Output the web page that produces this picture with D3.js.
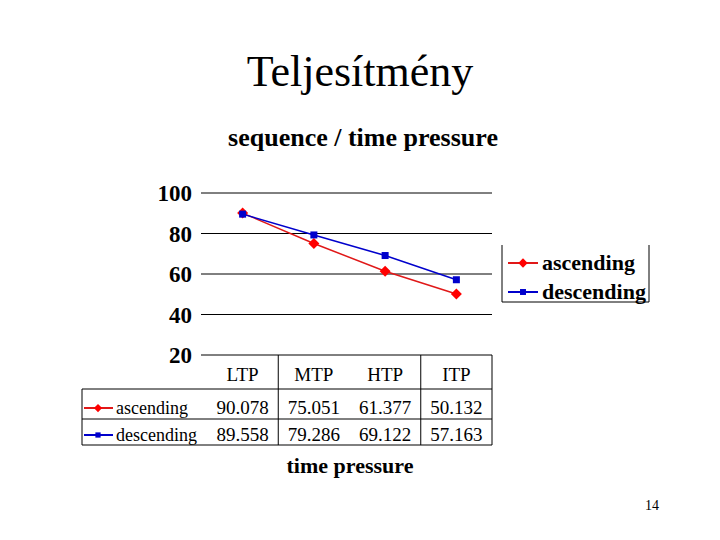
<!DOCTYPE html>
<html><head><meta charset="utf-8">
<script src="https://cdn.jsdelivr.net/npm/d3@7"></script>
<style>body{margin:0;background:#fff}svg{display:block}text{font-family:"Liberation Serif","Times New Roman",serif}</style>
</head><body>
<script>
const categories = ["LTP","MTP","HTP","ITP"];
const ascending = [90.078, 75.051, 61.377, 50.132];
const descending = [89.558, 79.286, 69.122, 57.163];
const yTicks = [20,40,60,80,100];
const seriesNames = ["ascending","descending"];

const svg = d3.select("body").append("svg").attr("width",720).attr("height",540);
svg.append("rect").attr("width",720).attr("height",540).attr("fill","#fff");

svg.append("text").attr("x",360).attr("y",86).attr("text-anchor","middle")
  .attr("font-size",44).text("Teljesítmény");
svg.append("text").attr("x",363).attr("y",146).attr("text-anchor","middle")
  .attr("font-size",26).attr("font-weight","bold").text("sequence / time pressure");

const x = d3.scaleBand().domain(categories).range([207,492]);
const y = d3.scaleLinear().domain([20,100]).range([355,193]);

// gridlines
svg.append("g").selectAll("line").data(yTicks).join("line")
  .attr("x1",201).attr("x2",492).attr("y1",d=>y(d)).attr("y2",d=>y(d))
  .attr("stroke","#000").attr("stroke-width",1);
svg.append("g").selectAll("text").data(yTicks).join("text")
  .attr("x",192).attr("y",d=>y(d)+8).attr("text-anchor","end")
  .attr("font-size",23).attr("font-weight","bold").text(d=>d);

const series = [
  {name:seriesNames[0], values:ascending, color:"#ff0000", line:"#e01818", shape:"diamond"},
  {name:seriesNames[1], values:descending, color:"#0000cc", line:"#0000cc", shape:"square"}
];
const cx = c => x(c)+x.bandwidth()/2;
const line = d3.line().x((d,i)=>cx(categories[i])).y(d=>y(d));
function marker(g, shape, color, px, py, scale){
  if(shape==="diamond"){
    const s=5.5*scale;
    g.append("path").attr("d",`M${px},${py-s}L${px+s},${py}L${px},${py+s}L${px-s},${py}Z`).attr("fill",color);
  } else {
    const s=3.5*scale;
    g.append("rect").attr("x",px-s).attr("y",py-s).attr("width",2*s).attr("height",2*s).attr("fill",color);
  }
}
series.forEach(s=>{
  const g = svg.append("g");
  g.append("path").datum(s.values).attr("d",line).attr("fill","none")
    .attr("stroke",s.line).attr("stroke-width",1.5);
  s.values.forEach((v,i)=>marker(g,s.shape,s.color,cx(categories[i]),y(v),1));
});

// legend box
const lg = svg.append("g");
lg.append("path").attr("d","M502,245V302H649V245").attr("fill","none").attr("stroke","#000");
series.forEach((s,i)=>{
  const ly = 263 + i*29;
  lg.append("line").attr("x1",508).attr("x2",538).attr("y1",ly).attr("y2",ly).attr("stroke",s.line).attr("stroke-width",2);
  marker(lg,s.shape,s.color,523,ly,0.85);
  lg.append("text").attr("x",542).attr("y",ly+7).attr("font-size",22).attr("font-weight","bold").text(s.name);
});

// data table
const tb = svg.append("g");
tb.append("line").attr("x1",x("MTP")).attr("x2",x("MTP")).attr("y1",355).attr("y2",445).attr("stroke","#000");
tb.append("line").attr("x1",x("ITP")).attr("x2",x("ITP")).attr("y1",355).attr("y2",445).attr("stroke","#000");
[389,419,445].forEach(yy=>tb.append("line").attr("x1",82).attr("x2",492).attr("y1",yy).attr("y2",yy).attr("stroke","#000"));
tb.append("line").attr("x1",82).attr("x2",82).attr("y1",389).attr("y2",445).attr("stroke","#000");
tb.append("line").attr("x1",492).attr("x2",492).attr("y1",355).attr("y2",445).attr("stroke","#000");
categories.forEach(c=>tb.append("text").attr("x",cx(c)).attr("y",381).attr("text-anchor","middle").attr("font-size",19).text(c));
series.forEach((s,i)=>{
  const ry = 404 + i*27;
  tb.append("line").attr("x1",84).attr("x2",113).attr("y1",ry+4).attr("y2",ry+4).attr("stroke",s.line).attr("stroke-width",2);
  marker(tb,s.shape,s.color,98,ry+4,0.75);
  tb.append("text").attr("x",116).attr("y",ry+10).attr("font-size",18).text(s.name);
  s.values.forEach((v,j)=>tb.append("text").attr("x",cx(categories[j])).attr("y",ry+10)
    .attr("text-anchor","middle").attr("font-size",19).text(d3.format(".3f")(v)));
});

svg.append("text").attr("x",350).attr("y",473).attr("text-anchor","middle")
  .attr("font-size",22).attr("font-weight","bold").text("time pressure");
svg.append("text").attr("x",652).attr("y",510).attr("text-anchor","middle")
  .attr("font-size",14).text("14");
</script>
</body></html>
